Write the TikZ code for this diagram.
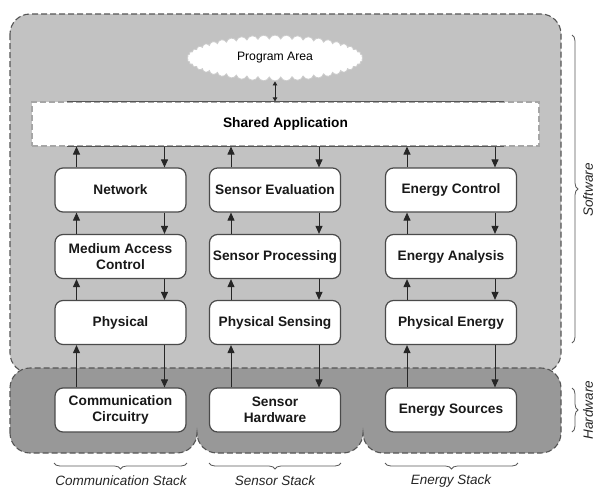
\documentclass[tikz,border=0pt]{standalone}
\usepackage{fontspec}
\setmainfont{Liberation Sans}
\usetikzlibrary{arrows.meta,shapes.symbols,decorations.pathreplacing}

\definecolor{swfill}{HTML}{C2C2C2}
\definecolor{hwfill}{HTML}{989898}
\definecolor{edge}{HTML}{555555}
\definecolor{boxedge}{HTML}{4A4A4A}

\begin{document}
\begin{tikzpicture}[x=1pt,y=-1pt,
  region/.style={draw=edge, line width=1.1pt, dash pattern=on 6pt off 3pt},
  stackbox/.style={draw=boxedge, fill=white, line width=1.2pt, rounded corners=8pt,
    minimum width=131pt, minimum height=44pt, align=center, inner sep=0pt,
    font=\fontsize{13.7}{16.5}\selectfont\bfseries, text=black!90},
  flow/.style={draw=black!85, line width=1pt, -{Triangle[length=8pt,width=7pt]}},
  bracket/.style={draw=black!65, line width=0.8pt, decorate, decoration={brace, amplitude=6pt}},
  tag/.style={font=\fontsize{13.5}{16}\selectfont\itshape, text=black!85, inner sep=0pt}
]
\useasboundingbox (0,0) rectangle (595,488);
\fill[white] (0,0) rectangle (595,488);

% software region
\draw[region, fill=swfill, rounded corners=20pt] (10,14) rectangle (561,373);

% hardware region: one band with three rounded lobes at the bottom
\draw[region, fill=hwfill]
  (10,433) -- (10,388) arc[start angle=180, end angle=90, radius=20pt]
  -- (541,368) arc[start angle=90, end angle=0, radius=20pt]
  -- (561,433) arc[start angle=0, end angle=-90, radius=20pt]
  -- (383,453) arc[start angle=270, end angle=180, radius=20pt]
  arc[start angle=0, end angle=-90, radius=20pt]
  -- (217,453) arc[start angle=270, end angle=180, radius=20pt]
  arc[start angle=0, end angle=-90, radius=20pt]
  -- (30,453) arc[start angle=270, end angle=180, radius=20pt] -- cycle;

% program area and shared application
\node[cloud, cloud puffs=48, cloud puff arc=140, aspect=4.2, fill=white, draw=black!20,
      line width=0.8pt, minimum width=176pt, minimum height=46pt, inner sep=0pt] (prog) at (275,58)
      {\fontsize{12.2}{14}\selectfont Program Area};
\node[fill=white, draw=black!35, line width=1.1pt, dash pattern=on 6pt off 3pt,
      minimum width=507pt, minimum height=44pt, inner sep=0pt,
      font=\fontsize{13.7}{16.5}\selectfont\bfseries] (app) at (285.5,124) {Shared Application};
\draw[edge, line width=1.2pt] ([xshift=36pt]app.north west) -- ([xshift=-36pt]app.north east);
\draw[edge, line width=1.2pt] ([xshift=36pt]app.south west) -- ([xshift=-36pt]app.south east);
\draw[black!85, line width=0.8pt, {Triangle[length=4pt,width=4.5pt]}-{Triangle[length=4pt,width=4.5pt]}]
  (prog.south) -- (prog.south |- app.north);

% communication stack
\node[stackbox] (net)  at (120.5,190)   {Network};
\node[stackbox] (mac)  at (120.5,256.5) {Medium Access\\Control};
\node[stackbox] (phy)  at (120.5,322.5) {Physical};
\node[stackbox] (comm) at (120.5,410)   {Communication\\Circuitry};

% sensor stack
\node[stackbox] (seval) at (275,190)   {Sensor Evaluation};
\node[stackbox] (sproc) at (275,256.5) {Sensor Processing};
\node[stackbox] (sphy)  at (275,322.5) {Physical Sensing};
\node[stackbox] (shw)   at (275,410)   {Sensor\\Hardware};

% energy stack
\node[stackbox] (ectl) at (451,190)   {Energy Control};
\node[stackbox] (eana) at (451,256.5) {Energy Analysis};
\node[stackbox] (ephy) at (451,322.5) {Physical Energy};
\node[stackbox] (esrc) at (451,410)   {Energy Sources};

% data flow up (left) and down (right) through each stack
\foreach \a/\b in {net/mac, mac/phy, phy/comm, seval/sproc, sproc/sphy, sphy/shw,
                   ectl/eana, eana/ephy, ephy/esrc} {
  \draw[flow] ([xshift=-44pt]\b.north) -- ([xshift=-44pt]\a.south);
  \draw[flow] ([xshift=44pt]\a.south) -- ([xshift=44pt]\b.north);
}
\foreach \a in {net, seval, ectl} {
  \draw[flow] ([xshift=-44pt]\a.north) -- ([xshift=-44pt]\a.north |- app.south);
  \draw[flow] ([xshift=44pt]\a.north |- app.south) -- ([xshift=44pt]\a.north);
}

% braces and their labels
\draw[bracket] (572,35) -- (572,343);
\node[tag, rotate=90] (swl) at (588,190) {Software};
\draw[bracket] (572,388) -- (572,432);
\node[tag, rotate=90] (hwl) at (588,410) {Hardware};

\draw[bracket] (187,463) -- (54,463);
\node[tag] (cst) at (121,481) {Communication Stack};
\draw[bracket] (341,463) -- (209,463);
\node[tag] (sst) at (275,481) {Sensor Stack};
\draw[bracket] (518,463) -- (385,463);
\node[tag] (est) at (451,481) {Energy Stack};
\end{tikzpicture}
\end{document}
